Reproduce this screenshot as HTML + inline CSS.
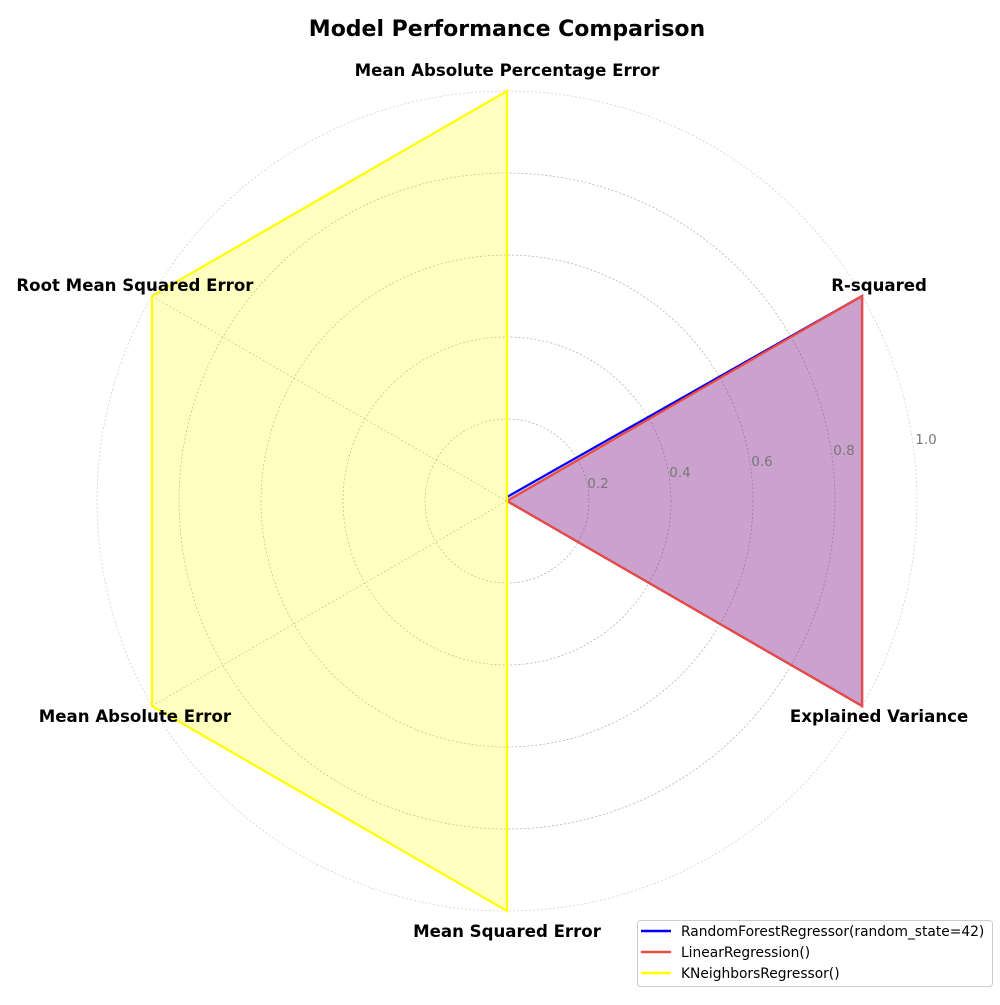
<!DOCTYPE html>
<html><head><meta charset="utf-8"><style>
body{margin:0;background:#fff;width:1000px;height:1000px;overflow:hidden}
svg{font-family:"DejaVu Sans","Liberation Sans",sans-serif}
</style></head><body>
<svg id="chart" width="1000" height="1000" viewBox="0 0 1000 1000" xmlns="http://www.w3.org/2000/svg">
<text x="507" y="36" text-anchor="middle" font-size="22" font-weight="bold">Model Performance Comparison</text>
<g id="grid"></g><g id="series"></g><g id="labels"></g>
<g>
<rect x="637.5" y="920.5" width="355" height="66" fill="#fff" stroke="#ccc" rx="3"/>
<line x1="641" y1="931" x2="671" y2="931" stroke="#0000ff" stroke-width="2.5"/>
<text x="681" y="936" font-size="13.8">RandomForestRegressor(random_state=42)</text>
<line x1="641" y1="952" x2="671" y2="952" stroke="#f04a3c" stroke-width="2.5"/>
<text x="681" y="957" font-size="13.8">LinearRegression()</text>
<line x1="641" y1="973" x2="671" y2="973" stroke="#ffff00" stroke-width="2.5"/>
<text x="681" y="978" font-size="13.8">KNeighborsRegressor()</text>
</g>
</svg>
<script>
const categories = ["R-squared","Mean Absolute Percentage Error","Root Mean Squared Error","Mean Absolute Error","Mean Squared Error","Explained Variance"];
const rfValues = [1.0,0.01,0.0,0.0,0.0,1.0];
const lrValues = [1.0,0.0,0.0,0.0,0.0,1.0];
const knnValues = [0.0,1.0,1.0,1.0,1.0,0.0];
const radialTicks = [0.2,0.4,0.6,0.8,1.0];
const radialTickLabels = ["0.2","0.4","0.6","0.8","1.0"];

const NS="http://www.w3.org/2000/svg";
const cx=507, cy=501, R=410;
function ang(i){return (30+60*i)*Math.PI/180;}
function rScale(v){return v*R;}
function pt(i,v){const a=ang(i);return [cx+rScale(v)*Math.cos(a), cy-rScale(v)*Math.sin(a)];}
function mk(tag,attrs,parent){const e=document.createElementNS(NS,tag);for(const k in attrs)e.setAttribute(k,attrs[k]);parent.appendChild(e);return e;}
const grid=document.getElementById('grid'), series=document.getElementById('series'), labels=document.getElementById('labels');
radialTicks.forEach((t,k)=>{
  const c=mk('circle',{cx:cx,cy:cy,r:rScale(t),fill:'none',stroke:k===radialTicks.length-1?'#ccc':'#aaa','stroke-width':0.7,'stroke-dasharray':'2,2'},grid);
  
  
  const tx=mk('text',{x:cx+rScale(t)+9,y:cy-rScale(t)*0.134-2,'font-size':13.5,fill:'#777','text-anchor':'middle'},labels);
  tx.textContent=radialTickLabels[k];
  
  
});
categories.forEach((c,i)=>{
  const p=pt(i,1);
  const l=mk('line',{x1:cx,y1:cy,x2:p[0],y2:p[1],stroke:'#aaa','stroke-width':0.7,'stroke-dasharray':'2,2'},grid);
  
  
  const a=ang(i);const cos=Math.cos(a), sin=Math.sin(a);
  let x,y;
  if(Math.abs(cos)<0.3){x=cx; y= sin>0 ? cy-R-15 : cy+R+26;}
  else {x = cos>0 ? cx+R*cos+17 : cx+R*cos-17; y = p[1] + (sin>0? -5 : 16);}
  const tx=mk('text',{x:x,y:y,'text-anchor':'middle','font-size':16.6,'font-weight':'bold'},labels);
  tx.textContent=c;
  
  
});
function draw(vals,color,name){
  const pts=vals.map((v,i)=>pt(i,v).join(',')).join(' ');
  const f=mk('polygon',{points:pts,fill:color,'fill-opacity':0.25,stroke:'none'},series);
  
  
  const l=mk('polygon',{points:pts,fill:'none',stroke:color,'stroke-width':2.2,'stroke-linejoin':'miter'},series);
  
  
}
draw(rfValues,'#0000ff','rf-series');
draw(lrValues,'#f04a3c','lr-series');
draw(knnValues,'#ffff00','knn-series');
</script>
</body></html>
